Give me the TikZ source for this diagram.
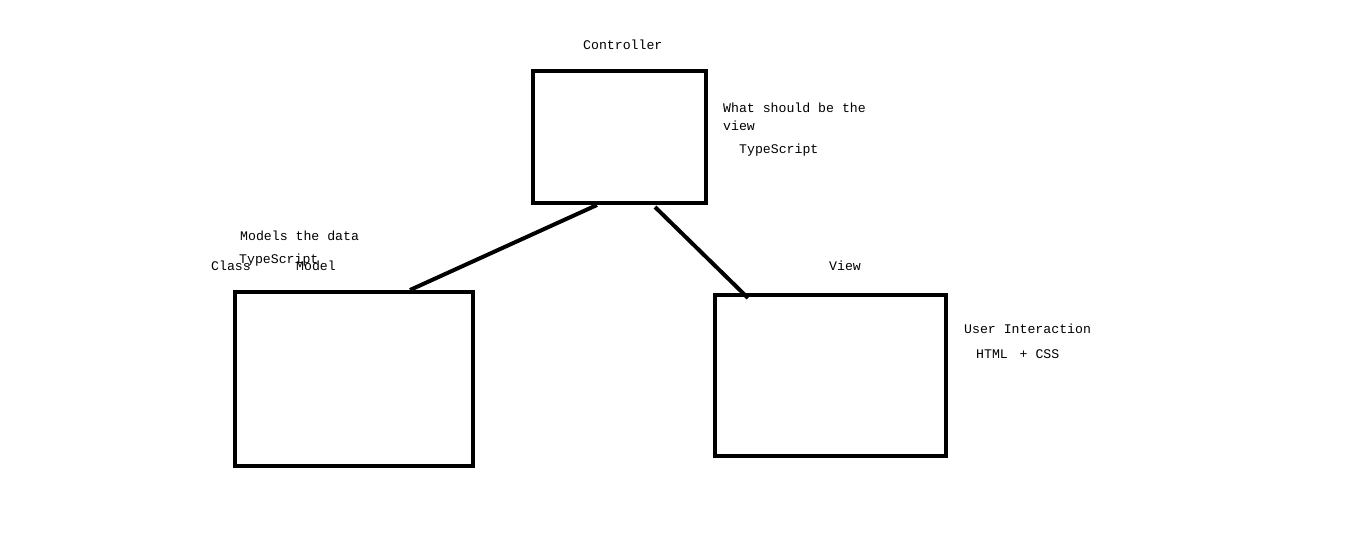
\documentclass[tikz,border=0pt]{standalone}
\usepackage{fontspec}
\newfontfamily\labelfont{Liberation Mono}
\usetikzlibrary{calc}
\tikzset{
  box/.style={draw=black, line width=4pt, rectangle, inner sep=0pt},
  link/.style={draw=black, line width=4pt},
  lbl/.style={anchor=base west, inner sep=0pt, font=\labelfont\fontsize{13.2}{16}\selectfont, text=black}
}
\begin{document}
\begin{tikzpicture}[x=1pt,y=-1pt]
\useasboundingbox (0,0) rectangle (1360,546);
\fill[white] (0,0) rectangle (1360,546);
% boxes
\node[box, minimum width=173pt, minimum height=132pt] (ctrl) at (619.5,137) {};
\node[box, minimum width=238pt, minimum height=174pt] (model) at (354,379) {};
\node[box, minimum width=231pt, minimum height=161pt] (view) at (830.5,375.5) {};
% connectors
\draw[link] ([xshift=-22.5pt]ctrl.south) -- ([xshift=56pt]model.north);
\draw[link] ([xshift=35.5pt,yshift=-2pt]ctrl.south) -- ([xshift=-82.5pt,yshift=-5pt]view.north);
% labels
\node[lbl] (tctrl) at (583,49) {Controller};
\node[lbl] (tw1) at (723,112) {What should be the};
\node[lbl] (tw2) at (723,130) {view};
\node[lbl] (tts1) at (739,153) {TypeScript};
\node[lbl] (tmod) at (240,240) {Models the data};
\node[lbl] (tts2) at (239,263) {TypeScript};
\node[lbl] (tclass) at (211,270) {Class};
\node[lbl] (tmodel) at (296,270) {Model};
\node[lbl] (tview) at (829,270) {View};
\node[lbl] (tui) at (964,333) {User Interaction};
\node[lbl] (thtml) at (976,358) {HTML\ \hspace{3.9pt}+ CSS};
\end{tikzpicture}
\end{document}
